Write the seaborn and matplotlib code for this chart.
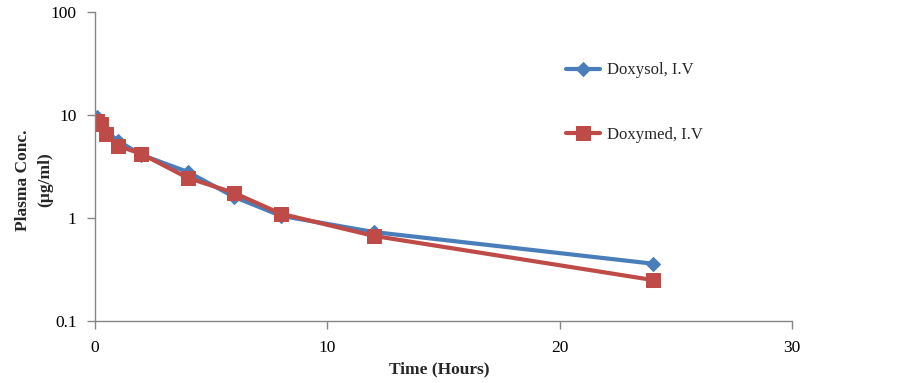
import pandas as pd
import numpy as np
import seaborn as sns
import matplotlib.pyplot as plt
from matplotlib.ticker import FixedLocator, NullLocator, FixedFormatter

# sampling times (hours) and plasma concentrations (ug/ml)
time_h = [0.083, 0.25, 0.5, 1, 2, 4, 6, 8, 12, 24]
doxysol_iv = [9.5, 8.6, 6.9, 5.6, 4.1, 2.8, 1.6, 1.05, 0.73, 0.36]
doxymed_iv = [8.7, 8.2, 6.5, 5.0, 4.2, 2.45, 1.75, 1.1, 0.67, 0.25]

y_ticks = [0.1, 1, 10, 100]
y_tick_labels = ["0.1", "1", "10", "100"]
x_ticks = [0, 10, 20, 30]


def plot():
    sns.set_style("white")
    plt.rcParams["font.family"] = ["Liberation Serif", "DejaVu Serif"]

    df_sol = pd.DataFrame({"time": time_h, "conc": doxysol_iv})
    df_med = pd.DataFrame({"time": time_h, "conc": doxymed_iv})

    fig = plt.figure(figsize=(9.02, 3.83), dpi=100)
    ax = fig.add_axes([0.105, 0.162, 0.773, 0.807])

    sns.lineplot(ax=ax, data=df_sol, x="time", y="conc", color="#4A7EBB",
                 linewidth=3, marker="D", markersize=7, markeredgecolor="#4A7EBB",
                 label="Doxysol, I.V")
    sns.lineplot(ax=ax, data=df_med, x="time", y="conc", color="#BE4B48",
                 linewidth=3, marker="s", markersize=10, markeredgecolor="#BE4B48",
                 label="Doxymed, I.V")

    ax.set_yscale("log")
    ax.set_ylim(0.1, 100)
    ax.set_xlim(0, 30)
    ax.yaxis.set_major_locator(FixedLocator(y_ticks))
    ax.yaxis.set_major_formatter(FixedFormatter(y_tick_labels))
    ax.yaxis.set_minor_locator(NullLocator())
    ax.set_xticks(x_ticks)

    for side in ["top", "right"]:
        ax.spines[side].set_visible(False)
    for side in ["left", "bottom"]:
        ax.spines[side].set_color("#868686")
        ax.spines[side].set_linewidth(1)

    ax.tick_params(axis="both", direction="out", length=6, width=1, color="#868686",
                   labelsize=12.5, labelcolor="black", left=True, bottom=True)
    ax.tick_params(axis="y", pad=7)
    ax.tick_params(axis="x", pad=8)

    ax.set_xlabel("Time (Hours)", fontsize=12.5, fontweight="bold")
    ax.xaxis.set_label_coords(0.494, -0.13)
    ax.set_ylabel("Plasma Conc.\n(\u00b5g/ml)", fontsize=12.5, fontweight="bold",
                  linespacing=1.45)
    ax.yaxis.set_label_coords(-0.06, 0.456)

    ax.legend(loc="upper left", bbox_to_anchor=(0.655, 0.885), frameon=False,
              fontsize=12, labelspacing=2.9, handlelength=2.0, handletextpad=0.45)

    plt.savefig("out.png", dpi=100)


if __name__ == '__main__':
    plot()
